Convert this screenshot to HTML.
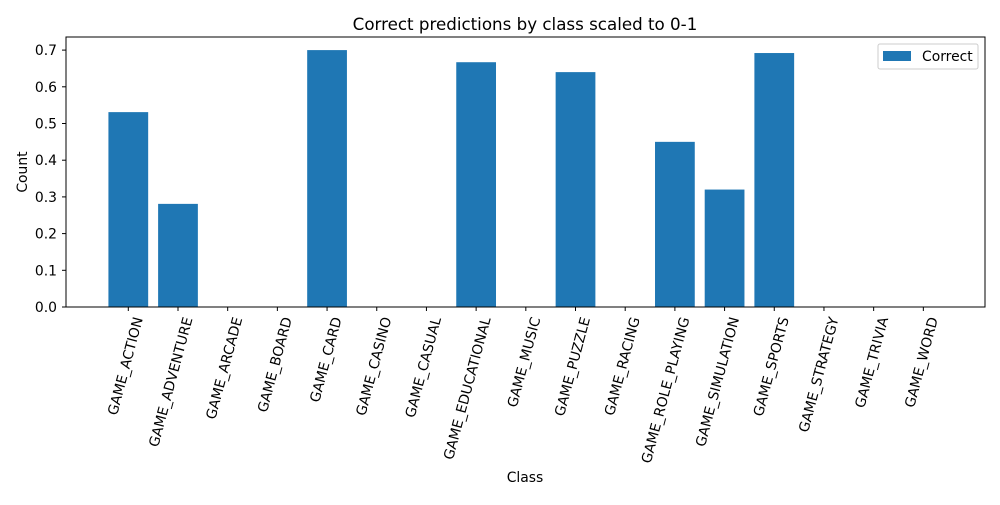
<!DOCTYPE html>
<html><head><meta charset="utf-8"><style>
body{margin:0;background:#fff;font-family:"Liberation Sans","DejaVu Sans",sans-serif}
svg text{font-family:"DejaVu Sans","Liberation Sans",sans-serif;fill:#000}
</style></head><body>
<svg id="c" width="1000" height="500">
<text x="525" y="30" font-size="16.7" text-anchor="middle">Correct predictions by class scaled to 0-1</text>
<g id="bars"></g><g id="xt"></g><g id="yt"></g>
<rect x="66" y="37" width="919" height="270" fill="none" stroke="#000" stroke-width="1"/>
<text x="27" y="172" font-size="13.9" text-anchor="middle" transform="rotate(-90 27 172)">Count</text>
<text x="525" y="482" font-size="13.9" text-anchor="middle">Class</text>
<g>
<rect x="878" y="44" width="100" height="25" rx="2" fill="#fff" stroke="#ccc" stroke-width="1"/>
<rect x="883" y="51" width="28" height="10" fill="#1f77b4"/>
<text x="922" y="61" font-size="13.9">Correct</text>
</g>
</svg>
<script>
const categories=["GAME_ACTION","GAME_ADVENTURE","GAME_ARCADE","GAME_BOARD","GAME_CARD","GAME_CASINO","GAME_CASUAL","GAME_EDUCATIONAL","GAME_MUSIC","GAME_PUZZLE","GAME_RACING","GAME_ROLE_PLAYING","GAME_SIMULATION","GAME_SPORTS","GAME_STRATEGY","GAME_TRIVIA","GAME_WORD"];
const values=[0.531,0.281,0,0,0.70,0,0,0.667,0,0.640,0,0.450,0.320,0.692,0,0,0];
const yTicks=["0.0","0.1","0.2","0.3","0.4","0.5","0.6","0.7"];
const NS="http://www.w3.org/2000/svg";
const y=v=>307-v*367;
const x=i=>128.3+i*49.69;
const bw=0.8*49.69;
const bars=document.getElementById('bars'),xt=document.getElementById('xt'),yt=document.getElementById('yt');
function mk(t,a,p){const e=document.createElementNS(NS,t);for(const k in a)e.setAttribute(k,a[k]);p.appendChild(e);return e;}
values.forEach((v,i)=>{
 const r=mk('rect',{x:x(i)-bw/2,y:y(v),width:bw,height:307-y(v),fill:'#1f77b4'},bars);
 
 
});
categories.forEach((c,i)=>{
 mk('line',{x1:x(i),x2:x(i),y1:307,y2:311,stroke:'#000'},xt);
 const t=mk('text',{x:x(i)+5,y:316,'font-size':13.9,'text-anchor':'end',transform:`rotate(-75 ${x(i)+5} 316)`,dy:'0.72em'},xt);
 t.textContent=c;
 
 
});
yTicks.forEach(s=>{
 const v=parseFloat(s);
 mk('line',{x1:62,x2:66,y1:y(v),y2:y(v),stroke:'#000'},yt);
 const t=mk('text',{x:57,y:y(v)+5,'font-size':13.9,'text-anchor':'end'},yt);
 t.textContent=s;
 
 
});
</script>
</body></html>
